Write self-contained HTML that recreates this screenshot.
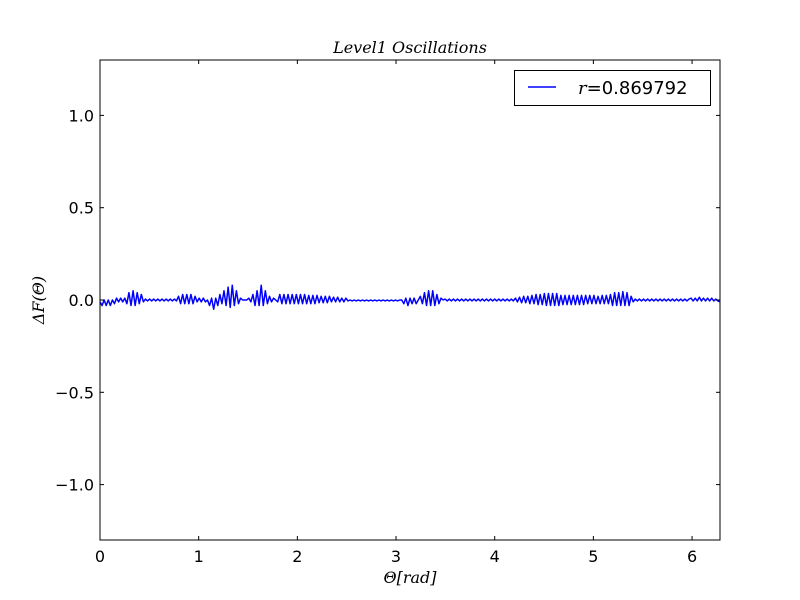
<!DOCTYPE html>
<html><head><meta charset="utf-8"><style>
body{margin:0;background:#fff}
svg{display:block}
text{font-family:"DejaVu Sans","Liberation Sans",sans-serif;font-size:16px;fill:#000}
.it{font-family:"DejaVu Serif","Liberation Serif",serif;font-style:italic}
</style></head><body>
<svg id="chart" width="800" height="600"></svg>
<script>
const xTicks=[0,1,2,3,4,5,6];
const xTickLabels=["0","1","2","3","4","5","6"];
const yTicks=[-1.0,-0.5,0.0,0.5,1.0];
const yTickLabels=["\u22121.0","\u22120.5","0.0","0.5","1.0"];
const xMax=6.2832;
const seriesY=[
-0.01,-0.03,0.0,-0.03,0.0,-0.03,0.0,-0.02,
0.01,-0.01,0.01,-0.01,0.01,
-0.02,0.04,-0.03,0.05,-0.03,0.04,-0.02,0.03,-0.01,
0.005,-0.005,0.005,-0.005,0.005,-0.005,0.005,-0.005,0.005,-0.005,0.005,-0.005,0.005,-0.005,0.005,-0.005,
0.02,-0.02,0.03,-0.02,0.03,-0.02,0.03,-0.02,0.02,-0.01,0.01,
-0.01,0.01,-0.01,0.0,
-0.03,0.01,-0.05,0.01,-0.03,
0.03,-0.02,0.05,-0.03,0.07,-0.04,0.08,-0.03,0.05,-0.02,0.01,
0.0,0.0,0.0,0.01,
-0.01,0.03,-0.03,0.05,-0.03,0.08,-0.03,0.05,-0.02,
0.02,-0.01,0.01,0.0,-0.01,
0.03,-0.02,0.03,-0.02,0.03,-0.02,0.03,-0.02,0.03,-0.02,0.03,-0.02,0.03,-0.02,0.025,-0.02,0.025,-0.02,0.025,-0.015,0.02,-0.015,0.02,-0.015,0.02,-0.01,0.015,-0.01,0.015,-0.01,0.01,-0.01,0.01,-0.005,
0.0,-0.005,0.0,-0.005,0.0,-0.005,0.0,-0.005,0.0,-0.005,0.0,-0.005,0.0,-0.005,0.0,-0.005,0.0,-0.005,0.0,-0.005,0.0,-0.005,0.0,-0.005,0.0,
0.0,-0.02,0.01,-0.03,0.01,-0.02,0.01,-0.02,0.0,
0.02,-0.02,0.04,-0.03,0.05,-0.03,0.05,-0.03,0.03,-0.02,0.01,0.0,
0.005,-0.005,0.005,-0.005,0.005,-0.005,0.005,-0.005,0.005,-0.005,0.005,-0.005,0.005,-0.005,0.005,-0.005,0.005,-0.005,0.005,-0.005,0.005,-0.005,0.005,-0.005,0.005,-0.005,0.005,-0.005,0.005,-0.005,0.005,-0.005,0.005,-0.005,
0.01,-0.01,0.015,-0.015,0.02,-0.015,0.02,-0.02,0.025,-0.02,0.03,-0.025,0.03,-0.025,0.035,-0.03,0.035,-0.03,0.035,-0.03,0.035,-0.03,
0.025,-0.025,0.025,-0.025,0.025,-0.025,0.025,-0.025,0.025,-0.025,0.025,-0.025,0.025,-0.02,0.025,-0.02,0.025,-0.02,0.02,-0.02,0.025,-0.02,0.025,-0.02,
0.03,-0.03,0.04,-0.03,0.04,-0.03,0.045,-0.03,0.04,-0.03,0.02,-0.01,
0.005,-0.005,0.005,-0.005,0.005,-0.005,0.005,-0.005,0.005,-0.005,0.005,-0.005,0.005,-0.005,0.005,-0.005,0.005,-0.005,0.005,-0.005,0.005,-0.005,0.005,-0.005,0.005,-0.005,0.005,
0.01,-0.005,0.01,-0.005,0.015,-0.005,0.01,-0.005,0.01,-0.005,0.01,-0.005,0.005,-0.005,-0.01
];
const L=100,R=720,T=60,B=540,yMin=-1.3,yMax=1.3;
const sx=v=>L+(v/xMax)*(R-L);
const sy=v=>B-(v-yMin)/(yMax-yMin)*(B-T);
const svg=document.getElementById('chart');
const NS='http://www.w3.org/2000/svg';
function mk(tag,attrs,txt){const e=document.createElementNS(NS,tag);for(const k in attrs)e.setAttribute(k,attrs[k]);if(txt!==undefined)e.textContent=txt;svg.appendChild(e);return e;}
let d='';const n=seriesY.length;
seriesY.forEach((v,i)=>{d+=(i?'L':'M')+sx(i*xMax/(n-1)).toFixed(2)+','+sy(v).toFixed(2);});
const line=mk('path',{d:d,fill:'none',stroke:'#0000ff','stroke-width':1.5,'stroke-linejoin':'round'});


const frame=mk('rect',{x:L,y:T,width:R-L,height:B-T,fill:'none',stroke:'#000','stroke-width':1});


xTicks.forEach((t,i)=>{const x=sx(t);
mk('line',{x1:x,x2:x,y1:B,y2:B-4,stroke:'#000'});
mk('line',{x1:x,x2:x,y1:T,y2:T+4,stroke:'#000'});
const lb=mk('text',{x:x,y:B+22,'text-anchor':'middle'},xTickLabels[i]);

});
yTicks.forEach((t,i)=>{const y=sy(t);
mk('line',{x1:L,x2:L+4,y1:y,y2:y,stroke:'#000'});
mk('line',{x1:R,x2:R-4,y1:y,y2:y,stroke:'#000'});
const lb=mk('text',{x:L-6,y:y+6,'text-anchor':'end'},yTickLabels[i]);

});
const ti=mk('text',{x:410,y:53,'text-anchor':'middle',class:'it','font-size':'18'},'Level1 Oscillations');


const xt=mk('text',{x:410,y:583,'text-anchor':'middle',class:'it'},'\u0398[rad]');


const yt=mk('text',{x:0,y:0,'text-anchor':'middle',class:'it',transform:'translate(44,300) rotate(-90)'},'\u0394F(\u0398)');


const lg=mk('rect',{x:514.5,y:70.5,width:196,height:35,fill:'#fff',stroke:'#000'});


const ll=mk('line',{x1:528,x2:556,y1:87,y2:87,stroke:'#0000ff','stroke-width':1.5});


const lt=mk('text',{x:578,y:94});


lt.innerHTML='<tspan class="it">r</tspan>=0.869792';
lt.style.fontSize='18px';
</script>
</body></html>
